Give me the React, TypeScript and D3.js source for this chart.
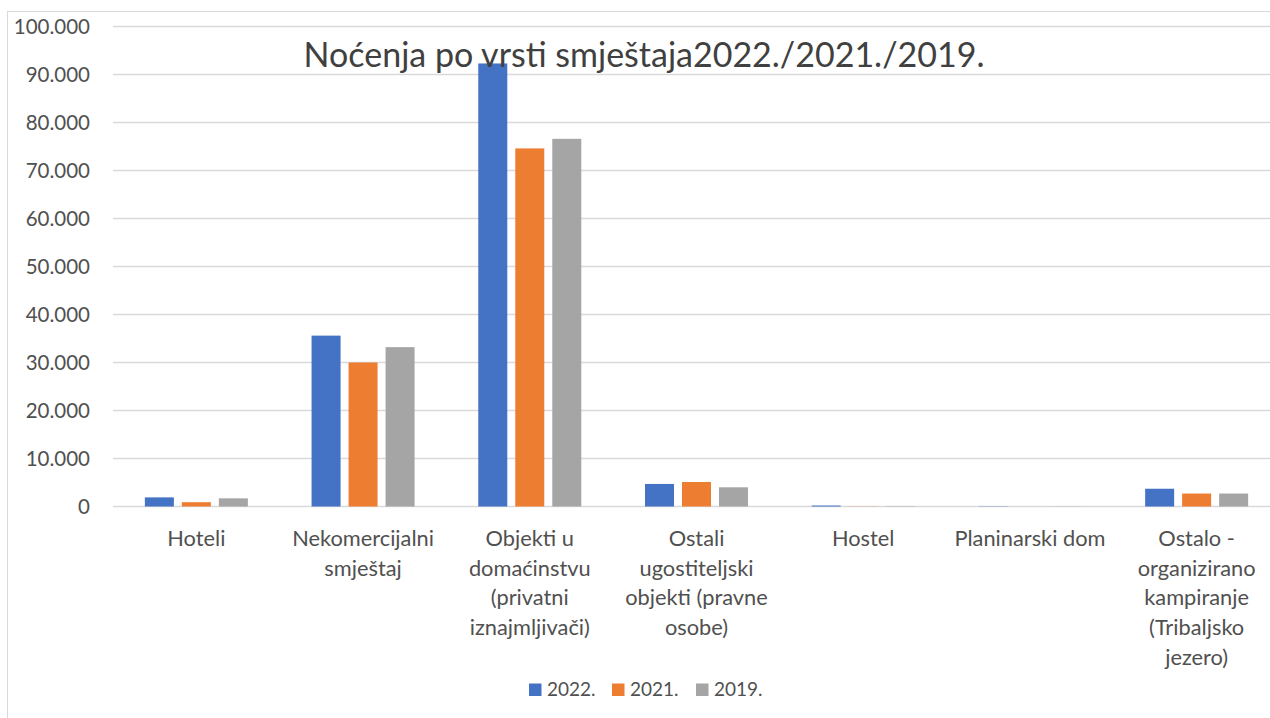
import React from "react";
import * as d3 from "d3";

const categories: string[][] = [
  ["Hoteli"],
  ["Nekomercijalni", "smještaj"],
  ["Objekti u", "domaćinstvu", "(privatni", "iznajmljivači)"],
  ["Ostali", "ugostiteljski", "objekti (pravne", "osobe)"],
  ["Hostel"],
  ["Planinarski dom"],
  ["Ostalo -", "organizirano", "kampiranje", "(Tribaljsko", "jezero)"],
];
const seriesNames = ["2022.", "2021.", "2019."];
const values2022 = [1900, 35600, 92300, 4700, 200, 50, 3700];
const values2021 = [900, 30000, 74600, 5100, 30, 0, 2700];
const values2019 = [1700, 33200, 76600, 4000, 60, 20, 2700];
const yTicks = [0, 10000, 20000, 30000, 40000, 50000, 60000, 70000, 80000, 90000, 100000];
const colors = ["#4472C4", "#ED7D31", "#A5A5A5"];
const title = "Noćenja po vrsti smještaja2022./2021./2019.";

const W = 1270;
const H = 718;
const FONT = "Lato, 'Open Sans', sans-serif";
const TXT = "#505050";

export default function App() {
  const series = [values2022, values2021, values2019];
  const plotLeft = 113;
  const plotRight = 1280;
  const y = d3.scaleLinear().domain([0, 100000]).range([506.5, 26.5]);
  const x = d3
    .scaleBand<number>()
    .domain(categories.map((_, i) => i))
    .range([plotLeft, plotRight])
    .paddingInner(0)
    .paddingOuter(0);
  const inner = d3
    .scaleBand<number>()
    .domain([0, 1, 2])
    .range([0, 103])
    .paddingInner(8 / 37)
    .paddingOuter(0);
  const fmt = (v: number) => (v === 0 ? "0" : d3.format(",")(v).replace(/,/g, "."));

  const legendItems = [
    { sq: 529, tx: 547 },
    { sq: 612, tx: 630 },
    { sq: 696, tx: 714 },
  ];

  return (
    <svg
      width={W}
      height={H}
      style={{ position: "absolute", left: 0, top: 0, background: "#fff" }}
      fontFamily={FONT}
    >
      <rect x={0} y={0} width={W} height={H} fill="#fff" />
      <rect x={7.5} y={11.5} width={1400} height={900} fill="none" stroke="#d9d9d9" strokeWidth={1} />
      {yTicks.map((t) => (
        <g key={t}>
          <line x1={plotLeft} x2={plotRight} y1={y(t)} y2={y(t)} stroke="#d9d9d9" strokeWidth={1.5} />
          <text x={90} y={y(t) + 7.5} textAnchor="end" fontSize={20.5} fill={TXT}>
            {fmt(t)}
          </text>
        </g>
      ))}
      {categories.map((_, ci) => {
        const center = (x(ci) as number) + x.bandwidth() / 2;
        return series.map((vals, si) => {
          const v = vals[ci];
          const x0 = center - 51.5 + (inner(si) as number);
          return (
            <rect
              key={`${ci}-${si}`}
              x={x0}
              y={y(v)}
              width={inner.bandwidth()}
              height={Math.max(0, y(0) - y(v))}
              fill={colors[si]}
            />
          );
        });
      })}
      {categories.map((lines, ci) => {
        const center = (x(ci) as number) + x.bandwidth() / 2;
        return (
          <text key={ci} textAnchor="middle" fontSize={21.8} fill={TXT}>
            {lines.map((l, li) => (
              <tspan key={li} x={center} y={546 + li * 29.7}>
                {l}
              </tspan>
            ))}
          </text>
        );
      })}
      <text x={644} y={67} textAnchor="middle" fontSize={34} fill="#404040">
        {title}
      </text>
      {seriesNames.map((n, i) => (
        <g key={n}>
          <rect x={legendItems[i].sq} y={683.5} width={12.5} height={12.5} fill={colors[i]} />
          <text x={legendItems[i].tx} y={696} fontSize={19} fill={TXT}>
            {n}
          </text>
        </g>
      ))}
    </svg>
  );
}
